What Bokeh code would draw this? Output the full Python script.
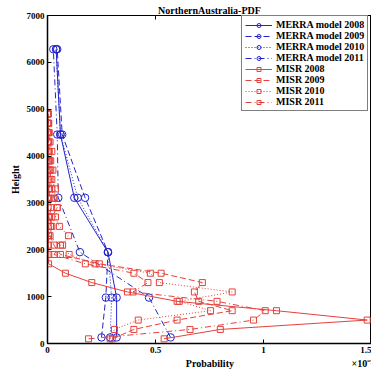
from bokeh.plotting import figure
from bokeh.models import LinearAxis, FixedTicker, Range1d
from bokeh.embed import file_html
from bokeh.resources import INLINE

# ---- data ----
merra_heights = [130, 980, 1950, 3110, 4460, 6280]
merra_2008 = [0.32, 0.32, 0.28, 0.124, 0.06, 0.04]
merra_2009 = [0.25, 0.27, 0.28, 0.174, 0.068, 0.045]
merra_2010 = [0.29, 0.297, 0.28, 0.14, 0.06, 0.04]
merra_2011 = [0.57, 0.47, 0.15, 0.05, 0.045, 0.027]

misr_heights = [100, 300, 500, 700, 900, 1100, 1300, 1500, 1700, 1900, 2100, 2300, 2500,
                2700, 2900, 3100, 3300, 3500, 3700, 3900, 4100, 4300, 4500, 4700, 4900]
misr_2008 = [0.54, 0.80, 1.48, 1.06, 0.60, 0.37, 0.205, 0.083, 0.005, 0.006, 0.004, 0.005, 0.003,
             0.004, 0.003, 0.003, 0.004, 0.002, 0.003, 0.002, 0.002, 0.002, 0.001, 0.002, 0.001]
misr_2009 = [0.30, 0.40, 0.60, 0.855, 0.70, 0.68, 0.717, 0.526, 0.24, 0.06, 0.03, 0.012, 0.02,
             0.01, 0.015, 0.008, 0.01, 0.006, 0.008, 0.005, 0.004, 0.004, 0.003, 0.002, 0.002]
misr_2010 = [0.29, 0.31, 0.42, 0.755, 0.61, 0.855, 0.518, 0.476, 0.22, 0.10, 0.07, 0.097, 0.055,
             0.037, 0.045, 0.03, 0.037, 0.02, 0.025, 0.015, 0.02, 0.012, 0.008, 0.006, 0.004]
misr_2011 = [0.19, 0.66, 0.954, 1.008, 0.785, 0.396, 0.465, 0.40, 0.175, 0.03, 0.06, 0.005, 0.014,
             0.02, 0.045, 0.03, 0.02, 0.012, 0.015, 0.01, 0.008, 0.006, 0.005, 0.004, 0.003]

x_ticks = [0, 0.5, 1, 1.5]
y_ticks = [0, 1000, 2000, 3000, 4000, 5000, 6000, 7000]

title_text = "NorthernAustralia-PDF"
x_label = "Probability"
y_label = "Height"
x_scale_text = "×10⁻⁷"

BLUE = "#2424cc"
RED = "#e5403b"
FONT = "Liberation Serif"
NB = "\u00a0"

p = figure(width=371, height=376, x_range=Range1d(0, 1.5), y_range=Range1d(0, 7000),
           output_backend="svg", toolbar_location=None,
           min_border_left=47, min_border_right=0, min_border_top=15, min_border_bottom=33)
p.background_fill_color = "white"
p.border_fill_color = "white"
p.grid.visible = False
p.outline_line_color = "black"
p.outline_line_width = 1

p.title.text = title_text
p.title.align = "center"
p.title.text_font = FONT
p.title.text_font_style = "bold"
p.title.text_font_size = "10px"
p.title.text_color = "black"
p.title.standoff = 0
p.title.offset = 0

for ax in (p.xaxis[0], p.yaxis[0]):
    ax.major_tick_in = 4
    ax.major_tick_out = 0
    ax.minor_tick_in = 0
    ax.minor_tick_out = 0
    ax.axis_line_color = "black"
    ax.axis_line_width = 1.5
    ax.major_tick_line_color = "black"
    ax.major_label_text_font = FONT
    ax.major_label_text_font_style = "bold"
    ax.major_label_text_font_size = "9px"
    ax.major_label_text_color = "black"
    ax.axis_label_text_font = FONT
    ax.axis_label_text_font_style = "bold"
    ax.axis_label_text_font_size = "10px"
    ax.axis_label_text_color = "black"

p.xaxis.ticker = FixedTicker(ticks=x_ticks)
p.yaxis.ticker = FixedTicker(ticks=y_ticks)
p.xaxis.major_label_overrides = {0: "0", 0.5: "0.5", 1: "1", 1.5: "1.5"}
# axis title centred under the frame, with the scale factor pushed to the right edge
p.xaxis.axis_label = NB * 56 + x_label + NB * 47 + x_scale_text
p.yaxis.axis_label = y_label
p.xaxis.major_label_standoff = 3
p.yaxis.major_label_standoff = 3
p.xaxis.axis_label_standoff = 2
p.yaxis.axis_label_standoff = 3

top_axis = LinearAxis(ticker=FixedTicker(ticks=x_ticks), major_tick_in=4, major_tick_out=0,
                      minor_tick_in=0, minor_tick_out=0, major_label_text_font_size="0px",
                      major_label_text_alpha=0, major_label_standoff=0, axis_line_color="black")
p.add_layout(top_axis, "above")

merra = [("MERRA model 2008", merra_2008, "solid"),
         ("MERRA model 2009", merra_2009, "dashed"),
         ("MERRA model 2010", merra_2010, "dotted"),
         ("MERRA model 2011", merra_2011, "dashdot")]
misr = [("MISR 2008", misr_2008, "solid"),
        ("MISR 2009", misr_2009, "dashed"),
        ("MISR 2010", misr_2010, "dotted"),
        ("MISR 2011", misr_2011, "dashdot")]
dash_map = {"solid": "solid", "dashed": "6 3", "dotted": "1 2", "dashdot": "6 3 1 3"}

for name, vals, dash in merra:
    p.line(vals, merra_heights, line_color=BLUE, line_width=1, line_dash=dash_map[dash], legend_label=name)
    p.scatter(vals, merra_heights, marker="circle", size=7.5, line_color=BLUE, fill_color=None,
              line_width=1, legend_label=name)
for name, vals, dash in misr:
    p.line(vals, misr_heights, line_color=RED, line_width=1, line_dash=dash_map[dash], legend_label=name)
    p.scatter(vals, misr_heights, marker="square", size=6, line_color=RED, fill_color=None,
              line_width=1, legend_label=name)

lg = p.legend[0]
lg.location = (194, 232)
lg.label_text_font = FONT
lg.label_text_font_style = "bold"
lg.label_text_font_size = "10px"
lg.label_text_color = "black"
lg.label_height = 10
lg.glyph_height = 10
lg.glyph_width = 27
lg.label_standoff = 4
lg.spacing = 0
lg.padding = 3
lg.margin = 0
lg.border_line_color = "black"
lg.border_line_width = 1.5
lg.background_fill_color = "white"
lg.background_fill_alpha = 1

open("out.html", "w").write(file_html(p, INLINE))
